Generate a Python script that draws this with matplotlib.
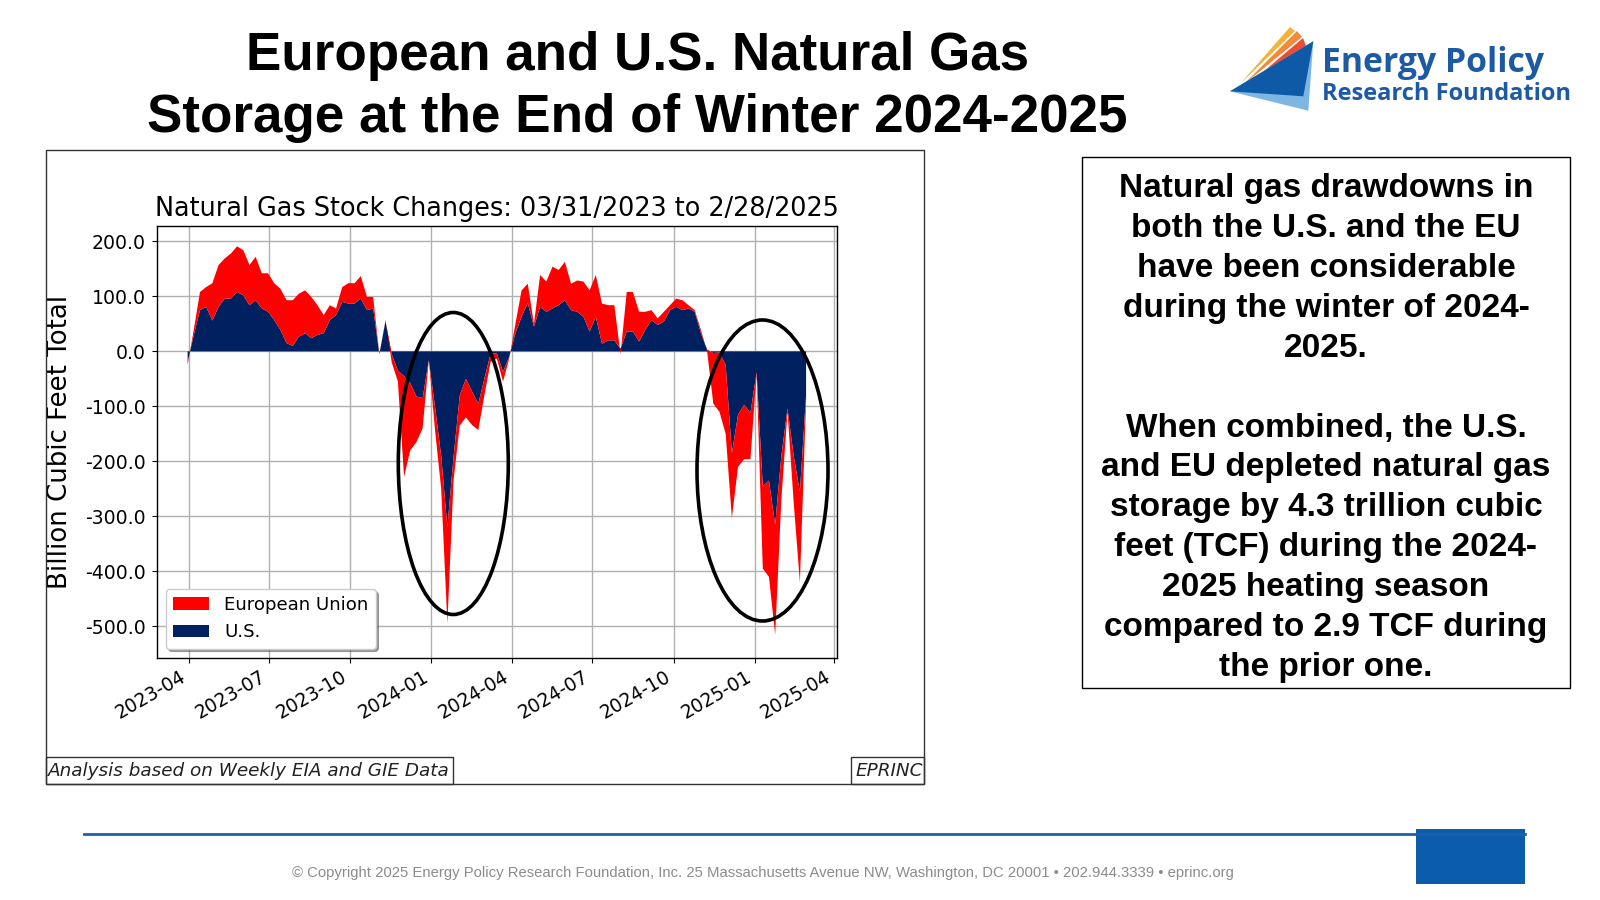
import matplotlib
matplotlib.use('Agg')
import matplotlib.pyplot as plt
from matplotlib.patches import Rectangle, Ellipse, Polygon
import pandas as pd

plt.rcParams['axes.unicode_minus'] = False
plt.rcParams['font.family'] = ['DejaVu Sans']

# ---------------- data (weekly net storage change, Bcf) ----------------
week_end_dates = pd.date_range('2023-03-31', '2025-02-28', freq='7D')

us_bcf = [-20, 30, 75, 81, 56, 81, 96, 96, 108, 102,
          84, 93, 78, 72, 57, 39, 15, 10, 27, 33,
          24, 30, 33, 57, 66, 90, 87, 87, 96, 75,
          78, -5, 55, -5, -35, -45, -58, -82, -85, -16,
          -100, -190, -319, -192, -80, -50, -73, -95, -49, -4,
          -4, -37, -10, 33, 63, 88, 45, 81, 72, 78,
          84, 93, 75, 72, 63, 36, 63, 14, 20, 20,
          5, 36, 36, 18, 39, 57, 48, 54, 75, 81,
          75, 78, 72, 33, 3, -3, -2, -25, -185, -115,
          -97, -112, -38, -245, -235, -315, -190, -104, -190, -255,
          -80]

eu_bcf = [-5, 10, 33, 36, 68, 76, 73, 82, 83, 82,
          73, 79, 64, 70, 67, 75, 78, 83, 78, 78,
          75, 54, 33, 27, 12, 27, 37, 37, 41, 24,
          21, 0, 2, -15, -20, -183, -122, -83, -55, 0,
          -43, -60, -176, -42, -55, -70, -61, -48, -30, -15,
          -9, -18, -3, 17, 48, 35, 5, 58, 55, 76,
          64, 70, 48, 57, 64, 75, 76, 73, 64, 64,
          -10, 72, 72, 54, 33, 18, 12, 18, 9, 15,
          18, 6, 3, 6, -3, -92, -108, -125, -118, -95,
          -99, -84, -2, -150, -175, -200, -80, -6, -85, -165,
          -10]

series_labels = ['U.S.', 'European Union']
series_colors = ['#002060', '#ff0000']

xtick_dates = pd.date_range('2023-04-01', '2025-04-01', freq='QS')
xtick_labels = [d.strftime('%Y-%m') for d in xtick_dates]
ytick_values = [200, 100, 0, -100, -200, -300, -400, -500]
ytick_labels = ['%.1f' % v for v in ytick_values]

chart_title = 'Natural Gas Stock Changes: 03/31/2023 to 2/28/2025'
y_label = 'Billion Cubic Feet Total'
slide_title = ['European and U.S. Natural Gas',
               'Storage at the End of Winter 2024-2025']
box_lines = ['Natural gas drawdowns in', 'both the U.S. and the EU',
             'have been considerable', 'during the winter of 2024-',
             '2025.', '',
             'When combined, the U.S.', 'and EU depleted natural gas',
             'storage by 4.3 trillion cubic', 'feet (TCF) during the 2024-',
             '2025 heating season', 'compared to 2.9 TCF during',
             'the prior one.']
source_note = 'Analysis based on Weekly EIA and GIE Data'
brand_note = 'EPRINC'
copyright_text = ('\u00a9 Copyright 2025 Energy Policy Research Foundation, Inc. '
                  '25 Massachusetts Avenue NW, Washington, DC 20001 \u2022 '
                  '202.944.3339 \u2022 eprinc.org')

assert len(week_end_dates) == len(us_bcf) == len(eu_bcf)

# ---------------- layout helpers ----------------
W, H = 1600, 900
def fx(x):
    return x / W
def fy(y):
    return 1 - y / H

fig = plt.figure(figsize=(16, 9), dpi=100)
fig.patch.set_facecolor('white')

# chart frame
fig.add_artist(Rectangle((fx(46), fy(783.5)), (923.5 - 46) / W, (783.5 - 150) / H,
                         transform=fig.transFigure, fill=False, edgecolor='#333333', lw=1.0))

# ---------------- main axes ----------------
ax = fig.add_axes([fx(156.7), fy(657.7), (837 - 156.7) / W, (657.7 - 226) / H])
ax.stackplot(week_end_dates, us_bcf, eu_bcf, colors=series_colors,
             labels=series_labels, zorder=2)
ax.set_xlim(pd.Timestamp('2023-02-24'), pd.Timestamp('2025-04-04'))
ax.set_ylim(-557, 228)
ax.set_xticks(xtick_dates)
ax.set_xticklabels(xtick_labels, rotation=30, ha='right', fontsize=13.4)
ax.set_yticks(ytick_values)
ax.set_yticklabels(ytick_labels, fontsize=13.6)
ax.tick_params(axis='y', pad=4.5)
ax.grid(True, color='#b0b0b0', lw=1.0)
ax.set_axisbelow(True)
ax.set_title(chart_title, fontsize=18.4, pad=7)
ax.set_ylabel(y_label, fontsize=18.7)
ax.yaxis.set_label_coords((73 - 156.7) / (837 - 156.7), 0.5)
for s in ax.spines.values():
    s.set_color('black')
    s.set_linewidth(1.0)

handles, labels = ax.get_legend_handles_labels()
ax.legend(handles[::-1], labels[::-1], loc='lower left', shadow=True,
          fontsize=13.1, fancybox=True, framealpha=1.0)

# ellipses highlighting winters
fig.add_artist(Ellipse((fx(453.3), fy(463.5)), 110 / W, 302 / H,
                       transform=fig.transFigure, fill=False, edgecolor='black', lw=2.6))
fig.add_artist(Ellipse((fx(762.5), fy(470.5)), 131 / W, 301 / H,
                       transform=fig.transFigure, fill=False, edgecolor='black', lw=2.6))

# source boxes
fig.add_artist(Rectangle((fx(46), fy(783.5)), (453 - 46) / W, (783.5 - 757) / H,
                         transform=fig.transFigure, fill=False, edgecolor='#333333', lw=1.0))
fig.text(fx(48), fy(770.5), source_note, fontsize=13.2, style='italic',
         ha='left', va='center', color='#222222')
fig.add_artist(Rectangle((fx(851), fy(783.5)), (923.5 - 851) / W, (783.5 - 757) / H,
                         transform=fig.transFigure, fill=False, edgecolor='#333333', lw=1.0))
fig.text(fx(855), fy(770.5), brand_note, fontsize=13.2, style='italic',
         ha='left', va='center', color='#222222')

# ---------------- slide title ----------------
fig.text(fx(637), fy(70), slide_title[0], ha='center', va='baseline',
         fontsize=38.2, fontweight='bold', family='Liberation Sans')
fig.text(fx(637), fy(132), slide_title[1], ha='center', va='baseline',
         fontsize=38.2, fontweight='bold', family='Liberation Sans')

# ---------------- right text box ----------------
fig.add_artist(Rectangle((fx(1082), fy(688)), (1570 - 1082) / W, (688 - 157) / H,
                         transform=fig.transFigure, fill=False, edgecolor='black', lw=1.0))
y0 = 184.7
for k, line in enumerate(box_lines):
    if line:
        fig.text(fx(1326), fy(y0 + 39.97 * k + 12), line, ha='center', va='baseline',
                 fontsize=24, fontweight='bold', family='Liberation Sans')

# ---------------- logo ----------------
def poly(pts, color):
    fig.add_artist(Polygon([(fx(x), fy(y)) for x, y in pts], closed=True,
                           transform=fig.transFigure, facecolor=color, edgecolor='none'))

poly([(1240, 84), (1290, 27), (1295, 31)], '#f6b13a')
poly([(1242, 86), (1297, 31), (1302, 37)], '#f18a3a')
poly([(1244, 88), (1303, 38), (1306, 46)], '#e94e34')
poly([(1230, 91.3), (1313.3, 41.3), (1308.3, 110.7)], '#7db6e2')
poly([(1230, 91.3), (1313.3, 41.3), (1303.3, 96.3)], '#0f5aa6')
fig.text(fx(1322), fy(72), 'Energy Policy', ha='left', va='baseline',
         fontsize=24.3, fontweight='bold', family='Open Sans', color='#1d5aa6')
fig.text(fx(1322), fy(100), 'Research Foundation', ha='left', va='baseline',
         fontsize=17, fontweight='bold', family='Open Sans', color='#1d5aa6')

# ---------------- footer ----------------
fig.add_artist(plt.Line2D([fx(84), fx(1525)], [fy(834), fy(834)],
                          transform=fig.transFigure, color='#1f5fa8', lw=2.0))
fig.add_artist(Rectangle((fx(1416), fy(884)), (1525 - 1416) / W, (884 - 829) / H,
                         transform=fig.transFigure, facecolor='#0b5cad', edgecolor='none'))
fig.text(fx(763), fy(873), copyright_text, ha='center', va='center',
         fontsize=10.72, color='#8c8c8c', family='Liberation Sans')

fig.savefig('out.png', dpi=100, facecolor='white')
